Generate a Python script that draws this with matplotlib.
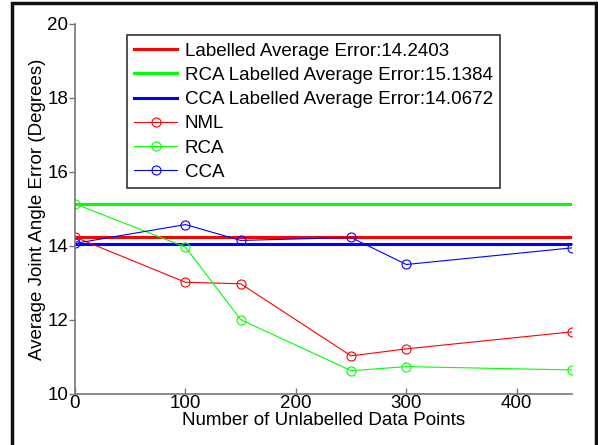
import matplotlib.pyplot as plt
from matplotlib.patches import Rectangle

plt.rcParams['font.family'] = ['Liberation Sans', 'DejaVu Sans']

# data
x = [0, 100, 150, 250, 300, 450]
nml = [14.24, 13.02, 12.98, 11.03, 11.22, 11.68]
rca = [15.14, 13.97, 12.01, 10.63, 10.74, 10.65]
cca = [14.07, 14.58, 14.15, 14.23, 13.50, 13.95]
lab_avg = 14.2403
rca_avg = 15.1384
cca_avg = 14.0672

fs = 13.5
fig = plt.figure(figsize=(5.98, 4.45), dpi=100)
ax = fig.add_axes([75/598, 51/445, 497/598, 370/445])

green = '#00ff00'
ax.plot([x[0], x[-1]], [lab_avg, lab_avg], color='r', lw=2.2,
        label='Labelled Average Error:%.4f' % lab_avg)
ax.plot([x[0], x[-1]], [rca_avg, rca_avg], color=green, lw=2.2,
        label='RCA Labelled Average Error:%.4f' % rca_avg)
ax.plot([x[0], x[-1]], [cca_avg, cca_avg], color='b', lw=2.2,
        label='CCA Labelled Average Error:%.4f' % cca_avg)
ax.plot(x, nml, color='r', lw=0.8, marker='o', mfc='none', ms=6.5, mew=0.8, label='NML')
ax.plot(x, rca, color=green, lw=0.8, marker='o', mfc='none', ms=6.5, mew=0.8, label='RCA')
ax.plot(x, cca, color='b', lw=0.8, marker='o', mfc='none', ms=6.5, mew=0.8, label='CCA')

ax.set_xlim(0, 450)
ax.set_ylim(10, 20)
ax.set_xticks([0, 100, 200, 300, 400])
ax.set_yticks([10, 12, 14, 16, 18, 20])
ax.spines['top'].set_visible(False)
ax.spines['right'].set_visible(False)
for s in ['left', 'bottom']:
    ax.spines[s].set_color('#777777')
    ax.spines[s].set_linewidth(1.2)
ax.tick_params(length=4, width=1, color='#777777',
               labelsize=fs, labelcolor='black')
ax.tick_params(axis='x', direction='in', pad=1)
ax.tick_params(axis='y', direction='out', pad=1)
ax.set_xlabel('Number of Unlabelled Data Points', fontsize=fs, labelpad=0)
ax.set_ylabel('Average Joint Angle Error (Degrees)', fontsize=fs, labelpad=1)

leg = ax.legend(loc='upper left', bbox_to_anchor=(0.104, 0.970), fontsize=fs,
                frameon=True, fancybox=False, handlelength=2.3,
                borderaxespad=0, labelspacing=0.38, handletextpad=0.4,
                borderpad=0.4)
leg.get_frame().set_edgecolor('black')
leg.get_frame().set_linewidth(1.2)

# black frame around the figure
fig.patches.append(Rectangle((12/598, -0.05), 584/598, 1.043, transform=fig.transFigure,
                             fill=False, edgecolor='#111111', lw=2.5))

fig.savefig('out.png', dpi=100)
